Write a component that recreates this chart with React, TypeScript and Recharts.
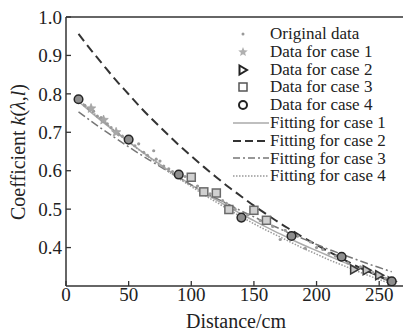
import { ComposedChart, Line, Scatter, XAxis, YAxis, ReferenceLine, Legend } from "recharts";

const fitX = [10, 20, 30, 40, 50, 60, 70, 80, 90, 100, 110, 120, 130, 140, 150, 160, 170, 180, 190, 200, 210, 220, 230, 240, 250, 260];
const fitCase1 = [0.780, 0.752, 0.725, 0.700, 0.675, 0.651, 0.628, 0.605, 0.584, 0.563, 0.543, 0.524, 0.505, 0.487, 0.470, 0.453, 0.437, 0.421, 0.406, 0.392, 0.378, 0.364, 0.351, 0.339, 0.327, 0.315];
const fitCase2 = [0.956, 0.914, 0.874, 0.835, 0.799, 0.763, 0.730, 0.698, 0.667, 0.638, 0.610, 0.583, 0.557, 0.533, 0.509, 0.487, 0.465, 0.445, 0.425, 0.407, 0.389, 0.372, 0.355, 0.340, 0.325, 0.311];
const fitCase3 = [0.753, 0.729, 0.706, 0.684, 0.662, 0.641, 0.621, 0.601, 0.582, 0.563, 0.546, 0.528, 0.512, 0.495, 0.480, 0.464, 0.450, 0.435, 0.422, 0.408, 0.395, 0.383, 0.371, 0.359, 0.348, 0.337];
const fitCase4 = [0.785, 0.756, 0.728, 0.701, 0.675, 0.650, 0.626, 0.602, 0.580, 0.559, 0.538, 0.518, 0.499, 0.480, 0.462, 0.445, 0.429, 0.413, 0.397, 0.383, 0.368, 0.355, 0.342, 0.329, 0.317, 0.305];

const origX = [15, 18, 22, 25, 28, 33, 36, 42, 45, 55, 58, 62, 65, 70, 72, 75, 78, 82, 85, 95, 105, 112, 115, 125, 128, 135, 145, 155, 165, 171, 175, 185, 191, 195, 200, 205, 210, 215, 225, 235, 245, 255];
const origY = [0.770, 0.762, 0.755, 0.742, 0.738, 0.722, 0.712, 0.695, 0.690, 0.665, 0.670, 0.648, 0.640, 0.652, 0.630, 0.625, 0.612, 0.605, 0.598, 0.585, 0.560, 0.548, 0.540, 0.522, 0.515, 0.500, 0.485, 0.470, 0.455, 0.421, 0.445, 0.430, 0.398, 0.415, 0.400, 0.395, 0.385, 0.378, 0.360, 0.350, 0.335, 0.320];

const case1X = [20, 30, 40];
const case1Y = [0.762, 0.732, 0.700];
const case2X = [230, 240, 250, 260];
const case2Y = [0.343, 0.341, 0.328, 0.312];
const case3X = [100, 110, 120, 130, 150, 160];
const case3Y = [0.583, 0.545, 0.542, 0.499, 0.497, 0.471];
const case4X = [10, 50, 90, 140, 180, 220, 260];
const case4Y = [0.786, 0.681, 0.590, 0.478, 0.430, 0.376, 0.312];

const xTicks = [0, 50, 100, 150, 200, 250];
const yTicks = [0.4, 0.5, 0.6, 0.7, 0.8, 0.9, 1.0];

const toPoints = (xs: number[], ys: number[]) => xs.map((x, i) => ({ x, y: ys[i] }));

const SERIF = '"Liberation Serif", "Times New Roman", serif';
const AXIS = "#333";

const starPath = (cx: number, cy: number, ro: number, ri: number) => {
  let d = "";
  for (let i = 0; i < 10; i++) {
    const r = i % 2 === 0 ? ro : ri;
    const a = -Math.PI / 2 + (i * Math.PI) / 5;
    d += `${i === 0 ? "M" : "L"}${cx + r * Math.cos(a)},${cy + r * Math.sin(a)}`;
  }
  return d + "Z";
};

const DotShape = ({ cx, cy }: any) => <circle cx={cx} cy={cy} r={1.6} fill="#9a9a9a" />;
const StarShape = ({ cx, cy }: any) => <path d={starPath(cx, cy, 5, 2.2)} fill="#a8a8a8" stroke="#999" strokeWidth={0.6} />;
const TriShape = ({ cx, cy }: any) => (
  <path d={`M${cx - 3.5},${cy - 4.5}L${cx + 4.5},${cy}L${cx - 3.5},${cy + 4.5}Z`} fill="#c4c4c4" stroke="#3a3a3a" strokeWidth={1.5} />
);
const SquareShape = ({ cx, cy }: any) => (
  <rect x={cx - 4} y={cy - 4} width={8} height={8} fill="#d0d0d0" stroke="#6a6a6a" strokeWidth={1.5} />
);
const RingShape = ({ cx, cy }: any) => <circle cx={cx} cy={cy} r={4.3} fill="#8e8e8e" stroke="#262626" strokeWidth={1.5} />;

const YTick = ({ x, y, payload }: any) => (
  <g>
    <line x1={x + 4} x2={x + 9} y1={y} y2={y} stroke={AXIS} strokeWidth={1.3} />
    <text x={x} y={y} dy="0.35em" textAnchor="end" fontFamily={SERIF} fontSize={19} fill="#222">
      {payload.value.toFixed(1)}
    </text>
  </g>
);

const XTick = ({ x, y, payload }: any) => (
  <g>
    <line x1={x} x2={x} y1={y - 4} y2={y - 9} stroke={AXIS} strokeWidth={1.3} />
    <text x={x} y={y + 11} textAnchor="middle" fontFamily={SERIF} fontSize={19} fill="#222">
      {payload.value}
    </text>
  </g>
);

const legendRows = [
  { label: "Original data", kind: "dot" },
  { label: "Data for case 1", kind: "star" },
  { label: "Data for case 2", kind: "tri" },
  { label: "Data for case 3", kind: "square" },
  { label: "Data for case 4", kind: "ring" },
  { label: "Fitting for case 1", kind: "solid" },
  { label: "Fitting for case 2", kind: "dash" },
  { label: "Fitting for case 3", kind: "dashdot" },
  { label: "Fitting for case 4", kind: "dotted" },
];

const LegendIcon = ({ kind }: { kind: string }) => {
  const cy = 9;
  switch (kind) {
    case "dot":
      return <circle cx={11} cy={cy} r={1.5} fill="#999" />;
    case "star":
      return <path d={starPath(11, cy, 5, 2.2)} fill="#b0b0b0" />;
    case "tri":
      return <path d={`M${7.5},${cy - 4.5}L${15},${cy}L${7.5},${cy + 4.5}Z`} fill="#fff" stroke="#222" strokeWidth={2} />;
    case "square":
      return <rect x={7} y={cy - 4} width={8} height={8} fill="#fff" stroke="#555" strokeWidth={1.5} />;
    case "ring":
      return <circle cx={11} cy={cy} r={4} fill="#fff" stroke="#222" strokeWidth={2} />;
    case "solid":
      return <line x1={1} x2={37} y1={cy} y2={cy} stroke="#aaa" strokeWidth={1.5} />;
    case "dash":
      return <line x1={1} x2={37} y1={cy} y2={cy} stroke="#333" strokeWidth={2} strokeDasharray="8 4" />;
    case "dashdot":
      return <line x1={1} x2={37} y1={cy} y2={cy} stroke="#777" strokeWidth={1.5} strokeDasharray="7 3 2 3" />;
    default:
      return <line x1={1} x2={37} y1={cy} y2={cy} stroke="#999" strokeWidth={1.5} strokeDasharray="1.5 1.5" />;
  }
};

const LegendBox = () => (
  <div style={{ fontFamily: SERIF, fontSize: 17, color: "#222" }}>
    {legendRows.map((r) => (
      <div key={r.label} style={{ display: "flex", alignItems: "center", height: 17.8, whiteSpace: "nowrap" }}>
        <svg width={38} height={18} style={{ flex: "none" }}>
          <LegendIcon kind={r.kind} />
        </svg>
        <span style={{ lineHeight: "17.8px" }}>{r.label}</span>
      </div>
    ))}
  </div>
);

export default function App() {
  return (
    <div style={{ position: "absolute", left: 0, top: 0, width: 403, height: 331, background: "#fff", overflow: "hidden" }}>
      <ComposedChart width={403} height={331} margin={{ top: 17, right: 0, bottom: 0, left: 0 }}>
        <XAxis
          type="number"
          dataKey="x"
          domain={[0, 269]}
          ticks={xTicks}
          tick={<XTick />}
          tickLine={false}
          tickSize={0}
          tickMargin={4}
          height={45}
          stroke={AXIS}
          strokeWidth={1.5}
          allowDataOverflow
          label={{
            content: () => (
              <text x={236} y={328} textAnchor="middle" fontFamily={SERIF} fontSize={20} fill="#222">
                Distance/cm
              </text>
            ),
          }}
        />
        <YAxis
          type="number"
          dataKey="y"
          domain={[0.3, 1.0]}
          ticks={yTicks}
          tick={<YTick />}
          tickLine={false}
          tickSize={0}
          tickMargin={4}
          width={66}
          stroke={AXIS}
          strokeWidth={1.5}
          allowDataOverflow
          label={{
            content: () => (
              <text x={25} y={152} transform="rotate(-90 25 152)" textAnchor="middle" fontFamily={SERIF} fontSize={20} fill="#222">
                Coefficient{"  "}
                <tspan fontStyle="italic">k</tspan>(<tspan fontStyle="italic">λ</tspan>,<tspan fontStyle="italic">l</tspan>)
              </text>
            ),
          }}
        />
        <ReferenceLine y={1.0} stroke={AXIS} strokeWidth={1.5} />

        <Line data={toPoints(fitX, fitCase1)} dataKey="y" type="monotone" stroke="#ababab" strokeWidth={1.5} dot={false} isAnimationActive={false} />
        <Line data={toPoints(fitX, fitCase2)} dataKey="y" type="monotone" stroke="#333" strokeWidth={2} strokeDasharray="9 5" dot={false} isAnimationActive={false} />
        <Line data={toPoints(fitX, fitCase3)} dataKey="y" type="monotone" stroke="#777" strokeWidth={1.5} strokeDasharray="8 3 2 3" dot={false} isAnimationActive={false} />
        <Line data={toPoints(fitX, fitCase4)} dataKey="y" type="monotone" stroke="#999" strokeWidth={1.5} strokeDasharray="1.5 1.5" dot={false} isAnimationActive={false} />

        <Scatter data={toPoints(origX, origY)} dataKey="y" shape={DotShape} isAnimationActive={false} />
        <Scatter data={toPoints(case1X, case1Y)} dataKey="y" shape={StarShape} isAnimationActive={false} />
        <Scatter data={toPoints(case2X, case2Y)} dataKey="y" shape={TriShape} isAnimationActive={false} />
        <Scatter data={toPoints(case3X, case3Y)} dataKey="y" shape={SquareShape} isAnimationActive={false} />
        <Scatter data={toPoints(case4X, case4Y)} dataKey="y" shape={RingShape} isAnimationActive={false} />

        <Legend
          layout="vertical"
          align="center"
          verticalAlign="middle"
          wrapperStyle={{ top: 25, left: 232, width: 171 }}
          content={() => <LegendBox />}
        />
      </ComposedChart>
    </div>
  );
}
